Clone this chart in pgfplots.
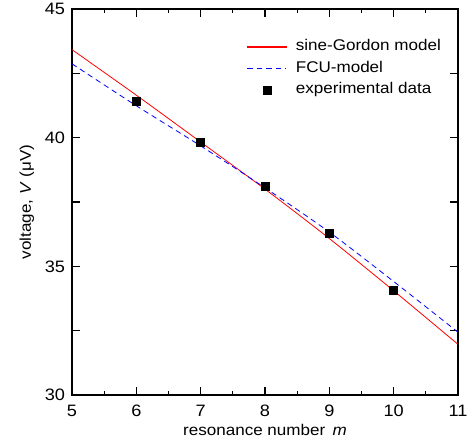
\documentclass[border=0pt]{standalone}
\usepackage{fontspec}
\setmainfont{Liberation Sans}[FakeStretch=1.1]
\usepackage{pgfplots}
\pgfplotsset{compat=1.18}
\definecolor{sgred}{RGB}{255,0,0}
\definecolor{fcublue}{RGB}{0,0,255}
\pgfplotsset{
  redleg/.style={legend image code/.code={\fill[sgred] (0pt,-0.45pt) rectangle (39pt,0.45pt);}},
  blueleg/.style={legend image code/.code={\draw[fcublue, line width=0.8pt, dash pattern=on 5.5pt off 4pt] (0pt,0pt) -- (39pt,0pt);}},
  markleg/.style={legend image code/.code={\fill[black] (15.5pt,-4pt) rectangle (23.5pt,4pt);}},
}
\begin{document}
\begin{tikzpicture}
\begin{axis}[
  name=ax,
  scale only axis,
  width=386pt, height=386pt,
  xmin=5, xmax=11, ymin=30, ymax=45,
  xtick={5,...,11}, ytick={30,32.5,...,45},
  yticklabels={30,,35,,40,,45},
  minor x tick num=1,
  tick align=inside,
  major tick length=8pt, minor tick length=4pt,
  axis line style={line width=1.4pt},
  every tick/.style={line width=1.2pt, black},
  /pgf/number format/assume math mode=true,
  ticklabel style={font=\fontsize{16.5}{18}\selectfont},
  xticklabel style={anchor=base, yshift=-21.5pt},
  yticklabel style={anchor=east, xshift=-3.5pt},
  xlabel={resonance number \,\textit{m}},
  ylabel={voltage, \textit{V} (μV)},
  label style={font=\fontsize{15.5}{17}\selectfont},
  xlabel style={at={(axis description cs:0.5,0)}, anchor=base, yshift=-40pt},
  ylabel style={at={(axis description cs:-0.117,0.5)}, anchor=center},
  legend style={draw=none, fill=none, inner sep=0pt, at={(axis description cs:0.453,0.93)}, anchor=north west,
    font=\fontsize{15.5}{17}\selectfont,
    nodes={inner xsep=2pt, inner ysep=3.75pt, text height=11pt, text depth=3pt},
    /tikz/every odd column/.append style={column sep=7pt}},
  legend cell align=left,
]
\addplot[color=sgred, line width=0.8pt, no marks, smooth, redleg]
  coordinates {(5,43.42) (6,41.65) (7,39.83) (8,38.00) (9,36.08) (10,34.05) (11,31.97)};
\addlegendentry{sine-Gordon model}
\addplot[color=fcublue, line width=0.8pt, dash pattern=on 5.5pt off 4pt, no marks, smooth, blueleg]
  coordinates {(5,42.87) (6,41.24) (7,39.68) (8,38.05) (9,36.33) (10,34.41) (11,32.44)};
\addlegendentry{FCU-model}
\addplot[only marks, mark=square*, mark size=4pt, black, mark options={draw=none, fill=black}, markleg]
  coordinates {(6,41.40) (7,39.81) (8,38.11) (9,36.28) (10,34.09)};
\addlegendentry{experimental data}
\end{axis}
\pgfresetboundingbox
\path (ax.south west) ++(-72pt,-52pt) coordinate (bl);
\path (ax.north east) ++(15pt,9pt) coordinate (tr);
\path[use as bounding box] (bl) rectangle (tr);
\end{tikzpicture}
\end{document}
